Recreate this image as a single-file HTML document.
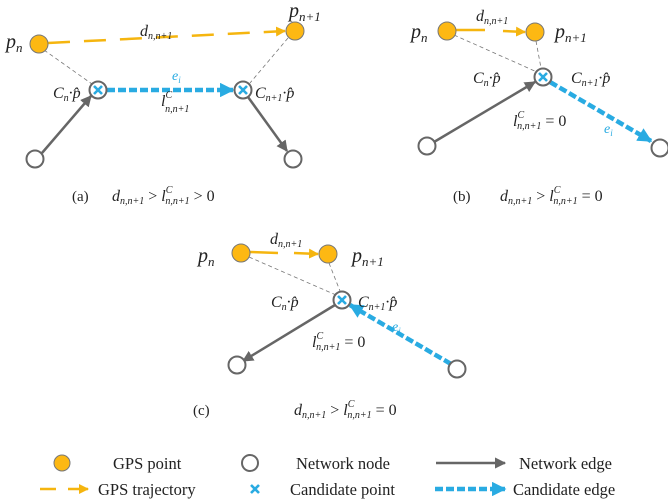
<!DOCTYPE html>
<html><head><meta charset="utf-8"><style>
body{margin:0;background:#fff}
svg{display:block;font-family:"Liberation Serif",serif}
.m{font-style:italic}
</style></head><body>
<svg width="668" height="502" viewBox="0 0 668 502">
<defs>
<marker id="ao" viewBox="0 0 10 10" refX="9" refY="5" markerWidth="4" markerHeight="4" orient="auto"><path d="M0,0L10,5L0,10z" fill="#F5B50F"/></marker>
<marker id="ab" viewBox="0 0 10 10" refX="9" refY="5" markerWidth="3.2" markerHeight="3.2" orient="auto"><path d="M0,0L10,5L0,10z" fill="#29ABE2"/></marker>
<marker id="ag" viewBox="0 0 10 10" refX="9" refY="5" markerWidth="4.5" markerHeight="4.5" orient="auto"><path d="M0,0L10,5L0,10z" fill="#666"/></marker>
<g id="cand"><circle r="8.5" fill="#fff" stroke="#666" stroke-width="2"/><path d="M-4,-4L4,4M4,-4L-4,4" stroke="#29ABE2" stroke-width="2.6"/></g>
</defs>
<style>
.gps{fill:#FDB813;stroke:#777;stroke-width:1}
.node{fill:#fff;stroke:#666;stroke-width:2}
.traj{stroke:#F5B50F;stroke-width:2.5;stroke-dasharray:22 14;fill:none}
.ce{stroke:#29ABE2;stroke-width:4.5;stroke-dasharray:8 3;fill:none}
.ne{stroke:#666;stroke-width:2.5;fill:none}
.thin{stroke:#777;stroke-width:0.8;stroke-dasharray:4 3;fill:none}
text{fill:#222}
</style>

<g>
<line class="thin" x1="44" y1="50" x2="92" y2="84"/>
<line class="thin" x1="288" y1="38" x2="250" y2="83"/>
<line class="traj" x1="48" y1="43" x2="285" y2="31" marker-end="url(#ao)"/>
<line class="ce" x1="107" y1="90" x2="233" y2="90" marker-end="url(#ab)"/>
<line class="ne" x1="42" y1="153" x2="91" y2="96" marker-end="url(#ag)"/>
<line class="ne" x1="248" y1="97" x2="287" y2="151" marker-end="url(#ag)"/>
<circle class="gps" cx="39" cy="44" r="9"/>
<circle class="gps" cx="295" cy="31" r="9"/>
<circle class="node" cx="35" cy="159" r="8.5"/>
<circle class="node" cx="293" cy="159" r="8.5"/>
<use href="#cand" x="98" y="90"/>
<use href="#cand" x="243" y="90"/>
<text x="6" y="48" font-size="20" class="m">p<tspan font-size="13" dy="4">n</tspan></text>
<text x="289" y="17" font-size="20" class="m">p<tspan font-size="13" dy="4">n+1</tspan></text>
<text x="140" y="36" font-size="16" class="m">d<tspan font-size="10" dy="3">n,n+1</tspan></text>
<text x="172" y="80" font-size="14" class="m" style="fill:#29ABE2">e<tspan font-size="9" dy="3">i</tspan></text>
<text x="161" y="106" font-size="16" class="m">l<tspan font-size="10" dy="-8">C</tspan><tspan font-size="10" dx="-7" dy="14">n,n+1</tspan></text>
<text x="53" y="98" font-size="16" class="m">C<tspan font-size="10" dy="3">n</tspan><tspan dy="-3">·p̂</tspan></text>
<text x="255" y="98" font-size="16" class="m">C<tspan font-size="10" dy="3">n+1</tspan><tspan dy="-3">·p̂</tspan></text>
<text x="72" y="201" font-size="15">(a)</text>
<text x="112" y="201" font-size="16" class="m">d<tspan font-size="10" dy="3">n,n+1</tspan><tspan dy="-3" font-style="normal"> &gt; </tspan>l<tspan font-size="10" dy="-8">C</tspan><tspan font-size="10" dx="-7" dy="11">n,n+1</tspan><tspan dy="-3" font-style="normal"> &gt; 0</tspan></text>
</g>

<g>
<line class="thin" x1="454" y1="35" x2="537" y2="72"/>
<line class="thin" x1="536" y1="41" x2="541" y2="68"/>
<line x1="455" y1="30" x2="485" y2="30" stroke="#F5B50F" stroke-width="2.5"/>
<line x1="503" y1="31" x2="525" y2="32" stroke="#F5B50F" stroke-width="2.5" marker-end="url(#ao)"/>
<line class="ne" x1="434" y1="142" x2="535" y2="82" marker-end="url(#ag)"/>
<line class="ce" x1="550" y1="82" x2="651" y2="141" marker-end="url(#ab)"/>
<circle class="gps" cx="447" cy="31" r="9"/>
<circle class="gps" cx="535" cy="32" r="9"/>
<circle class="node" cx="427" cy="146" r="8.5"/>
<circle class="node" cx="660" cy="148" r="8.5"/>
<use href="#cand" x="543" y="77"/>
<text x="411" y="38" font-size="20" class="m">p<tspan font-size="13" dy="4">n</tspan></text>
<text x="555" y="38" font-size="20" class="m">p<tspan font-size="13" dy="4">n+1</tspan></text>
<text x="476" y="21" font-size="16" class="m">d<tspan font-size="10" dy="3">n,n+1</tspan></text>
<text x="473" y="83" font-size="16" class="m">C<tspan font-size="10" dy="3">n</tspan><tspan dy="-3">·p̂</tspan></text>
<text x="571" y="83" font-size="16" class="m">C<tspan font-size="10" dy="3">n+1</tspan><tspan dy="-3">·p̂</tspan></text>
<text x="604" y="133" font-size="14" class="m" style="fill:#29ABE2">e<tspan font-size="9" dy="3">i</tspan></text>
<text x="513" y="126" font-size="16" class="m">l<tspan font-size="10" dy="-8">C</tspan><tspan font-size="10" dx="-7" dy="11">n,n+1</tspan><tspan dy="-3" font-style="normal"> = 0</tspan></text>
<text x="453" y="201" font-size="15">(b)</text>
<text x="500" y="201" font-size="16" class="m">d<tspan font-size="10" dy="3">n,n+1</tspan><tspan dy="-3" font-style="normal"> &gt; </tspan>l<tspan font-size="10" dy="-8">C</tspan><tspan font-size="10" dx="-7" dy="11">n,n+1</tspan><tspan dy="-3" font-style="normal"> = 0</tspan></text>
</g>

<g>
<line class="thin" x1="249" y1="257" x2="336" y2="295"/>
<line class="thin" x1="329" y1="263" x2="340" y2="291"/>
<line x1="250" y1="252" x2="278" y2="253" stroke="#F5B50F" stroke-width="2.5"/>
<line x1="294" y1="253" x2="318" y2="254" stroke="#F5B50F" stroke-width="2.5" marker-end="url(#ao)"/>
<line class="ne" x1="335" y1="305" x2="243" y2="361" marker-end="url(#ag)"/>
<line class="ce" x1="451" y1="364" x2="350" y2="305" marker-end="url(#ab)"/>
<circle class="gps" cx="241" cy="253" r="9"/>
<circle class="gps" cx="328" cy="254" r="9"/>
<circle class="node" cx="237" cy="365" r="8.5"/>
<circle class="node" cx="457" cy="369" r="8.5"/>
<use href="#cand" x="342" y="300"/>
<text x="198" y="262" font-size="20" class="m">p<tspan font-size="13" dy="4">n</tspan></text>
<text x="352" y="262" font-size="20" class="m">p<tspan font-size="13" dy="4">n+1</tspan></text>
<text x="270" y="244" font-size="16" class="m">d<tspan font-size="10" dy="3">n,n+1</tspan></text>
<text x="271" y="307" font-size="16" class="m">C<tspan font-size="10" dy="3">n</tspan><tspan dy="-3">·p̂</tspan></text>
<text x="358" y="307" font-size="16" class="m">C<tspan font-size="10" dy="3">n+1</tspan><tspan dy="-3">·p̂</tspan></text>
<text x="392" y="331" font-size="14" class="m" style="fill:#29ABE2">e<tspan font-size="9" dy="3">i</tspan></text>
<text x="312" y="347" font-size="16" class="m">l<tspan font-size="10" dy="-8">C</tspan><tspan font-size="10" dx="-7" dy="11">n,n+1</tspan><tspan dy="-3" font-style="normal"> = 0</tspan></text>
<text x="193" y="415" font-size="15">(c)</text>
<text x="294" y="415" font-size="16" class="m">d<tspan font-size="10" dy="3">n,n+1</tspan><tspan dy="-3" font-style="normal"> &gt; </tspan>l<tspan font-size="10" dy="-8">C</tspan><tspan font-size="10" dx="-7" dy="11">n,n+1</tspan><tspan dy="-3" font-style="normal"> = 0</tspan></text>
</g>

<g font-size="16.5">
<g><circle class="gps" cx="62" cy="463" r="8"/><text x="113" y="469">GPS point</text></g>
<g><circle class="node" cx="250" cy="463" r="8"/><text x="296" y="469">Network node</text></g>
<g><line class="ne" x1="436" y1="463" x2="505" y2="463" marker-end="url(#ag)"/><text x="519" y="469">Network edge</text></g>
<g><line x1="40" y1="489" x2="56" y2="489" stroke="#F5B50F" stroke-width="2.5"/><line x1="68" y1="489" x2="88" y2="489" stroke="#F5B50F" stroke-width="2.5" marker-end="url(#ao)"/><text x="98" y="495">GPS trajectory</text></g>
<g><path d="M251,485L259,493M259,485L251,493" stroke="#29ABE2" stroke-width="2.6"/><text x="290" y="495">Candidate point</text></g>
<g><line class="ce" x1="435" y1="489" x2="505" y2="489" marker-end="url(#ab)"/><text x="513" y="495">Candidate edge</text></g>
</g>
</svg>
</body></html>
